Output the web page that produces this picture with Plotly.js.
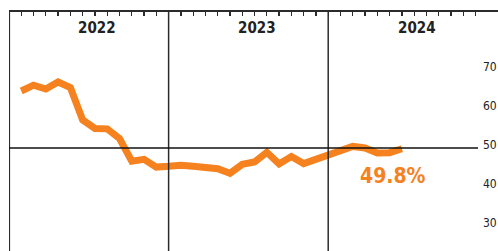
<!DOCTYPE html>
<html>
<head>
<meta charset="utf-8">
<script src="https://cdn.plot.ly/plotly-3.0.1.min.js"></script>
<style>
html,body{margin:0;padding:0;background:#fff;}
#chart{width:498px;height:251px;}
#chart text{font-stretch:condensed !important;}
</style>
</head>
<body>
<div id="chart"></div>
<script>
// 4-week periods since start of 2022 (13 periods per year)
const periods = [1,2,3,4,5,6,7,8,9,10,11,12,13,14,15,16,17,18,19,20,21,22,23,24,25,26,27,28,29,30,31,32];
const values  = [64.6,66.1,65.1,66.9,65.5,57.2,55.0,54.9,52.4,46.6,47.1,45.1,45.3,45.6,45.3,45.0,44.7,43.5,45.8,46.4,48.9,45.9,47.8,46.0,47.0,48.0,49.2,50.4,50.0,48.7,48.8,49.8];
const years = ['2022','2023','2024'];
const periodsPerYear = 13;
const yTicks = [30,40,50,60,70];
const lastLabel = '49.8%';

const orange = '#F5821F';
const dark = '#2b2b2b';
const fontFam = '"DejaVu Sans Condensed", "DejaVu Sans", sans-serif';

const shapes = [];
years.forEach((y,i)=>{
  shapes.push({type:'line', xref:'x', yref:'paper', x0:i*periodsPerYear, x1:i*periodsPerYear, y0:0, y1:1,
    line:{color:dark, width:i===0?2.2:1.5}});
});
shapes.push({type:'line', xref:'paper', yref:'y', x0:0, x1:1, y0:50, y1:50, line:{color:'#111', width:1.5}});
shapes.push({type:'line', xref:'paper', yref:'paper', x0:0, x1:1.05, y0:1, y1:1, line:{color:dark, width:2.2}});

const annotations = years.map((y,i)=>({
  x:i*periodsPerYear+7.2, y:1, xref:'x', yref:'paper', yanchor:'middle', yshift:-17, text:'<b>'+y+'</b>', showarrow:false,
  font:{family:fontFam, size:15, color:'#222'}
}));
annotations.push({x:periods[periods.length-1]-0.7, y:values[values.length-1], xref:'x', yref:'y', yanchor:'middle', yshift:-27,
  text:'<b>'+lastLabel+'</b>', showarrow:false, font:{family:fontFam, size:21, color:orange}});

const trace = {x:periods, y:values, type:'scatter', mode:'lines', line:{color:orange, width:7}, hoverinfo:'skip'};

const layout = {
  width:498, height:251,
  margin:{l:9, r:20, t:11, b:0},
  paper_bgcolor:'#fff', plot_bgcolor:'#fff',
  showlegend:false,
  xaxis:{range:[0,38.2], side:'top', showgrid:false, zeroline:false, showline:false,
    ticks:'inside', ticklen:5, tickwidth:1.3, tickcolor:dark, tick0:0, dtick:1, showticklabels:false, fixedrange:true},
  yaxis:{range:[23.6,85.1], side:'right', showgrid:false, zeroline:false, showline:false, ticks:'',
    tickvals:yTicks, ticktext:yTicks.map(String), ticklabelstandoff:4, ticklabelshift:-3,
    tickfont:{family:fontFam, size:12, color:'#222'}, fixedrange:true},
  shapes:shapes,
  annotations:annotations
};
Plotly.newPlot('chart',[trace],layout,{displayModeBar:false, staticPlot:true});
</script>
</body>
</html>
